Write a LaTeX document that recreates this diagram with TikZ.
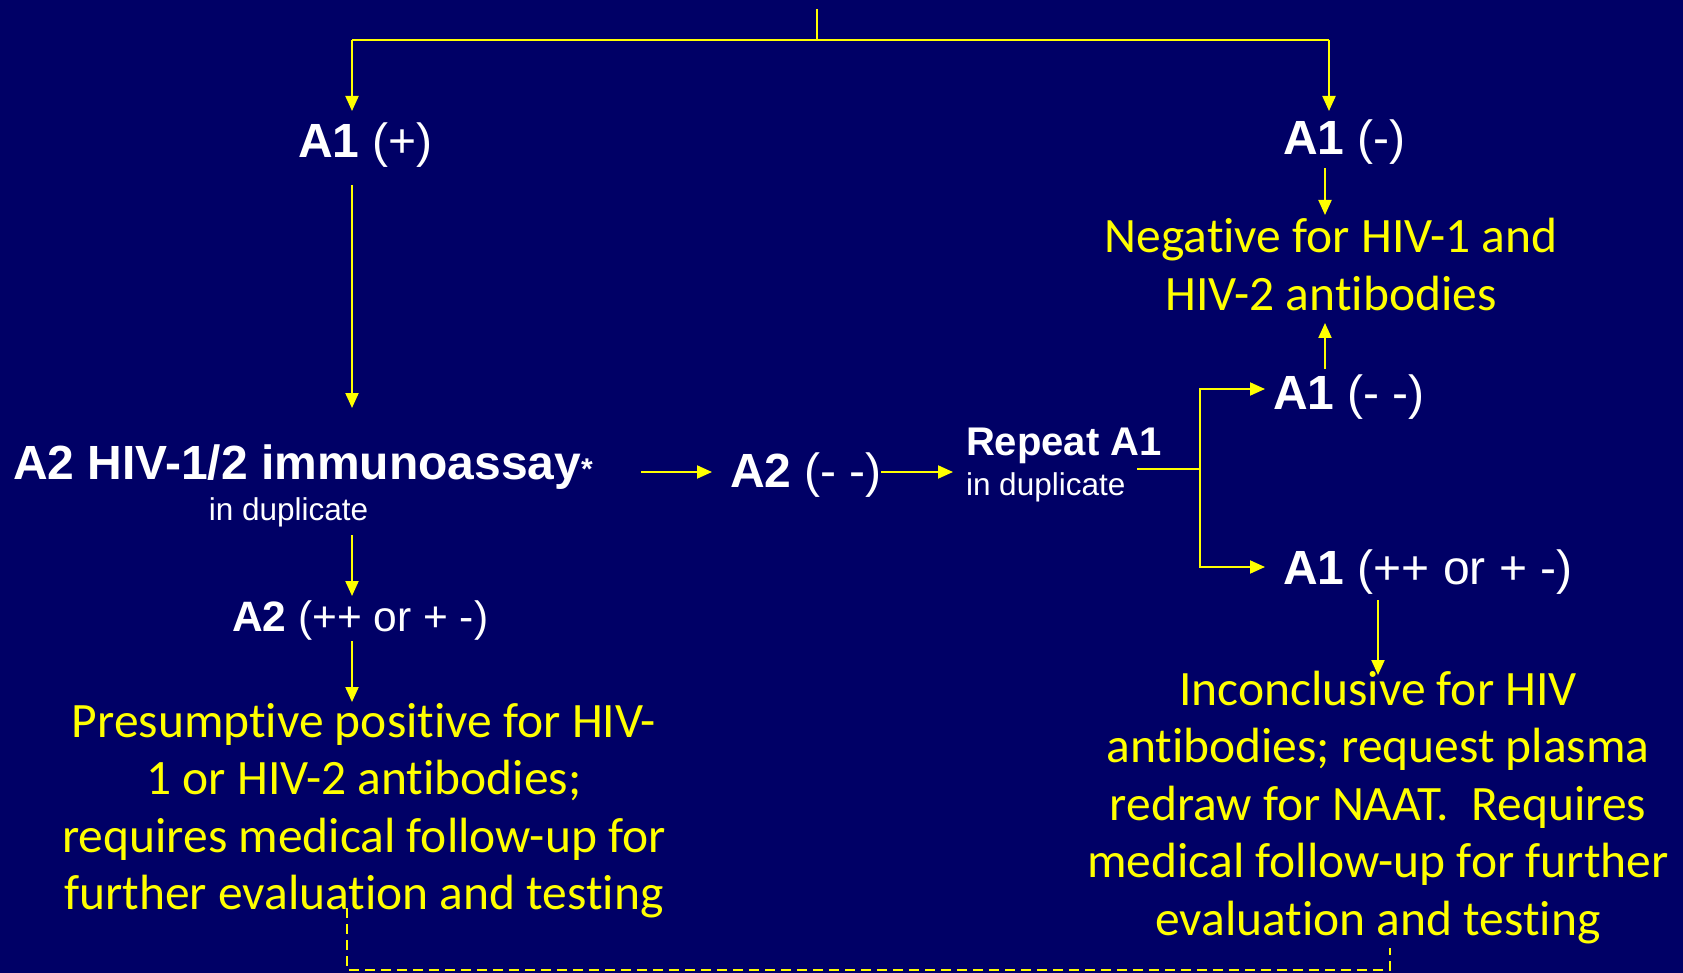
\documentclass[tikz,border=0pt]{standalone}
\usepackage{fontspec}
\setmainfont{Liberation Sans}
\newfontfamily\yfont[Ligatures={NoCommon,NoRare}]{Carlito}
\usetikzlibrary{arrows.meta,calc}
\definecolor{bg}{RGB}{0,0,102}
\definecolor{yl}{RGB}{255,255,0}
\begin{document}
\begin{tikzpicture}[x=1pt,y=-1pt,
  every node/.style={inner sep=0pt,outer sep=0pt},
  wl/.style={text=white,font=\fontsize{48}{56}\selectfont,anchor=base west},
  wsm/.style={text=white,font=\fontsize{31.5}{36}\selectfont},
  yt/.style={text=yl,font=\yfont\fontsize{49.5}{57.5}\selectfont,anchor=base},
  ln/.style={draw=yl,line width=2pt},
  arr/.style={ln,-{Triangle[length=15pt,width=13pt]}},
  dsh/.style={draw=yl,line width=2pt,dash pattern=on 10pt off 6pt}]
\fill[bg] (0,0) rectangle (1683,973);
\useasboundingbox (0,0) rectangle (1683,973);
% white labels
\node[wl] (a1p) at (298,158) {\textbf{A1} (+)};
\node[wl] (a1m) at (1283,155) {\textbf{A1} (-)};
\node[text=white,anchor=base west,font=\fontsize{48}{56}\selectfont\bfseries] (imm) at (13,479)
  {A2 HIV-1/2 immunoassay{\fontsize{30}{30}\selectfont*}};
\node[wsm,anchor=base] (dup1) at (288.5,520) {in duplicate};
\node[wl] (a2mm) at (730,487) {\textbf{A2} (- -)};
\node[text=white,anchor=base west,font=\fontsize{40}{48}\selectfont\bfseries] (rep) at (966,455) {Repeat A1};
\node[wsm,anchor=base west] (dup2) at (966,495) {in duplicate};
\node[wl] (a1mm) at (1273,409) {\textbf{A1} (- -)};
\node[wl] (a1pp) at (1283,584) {\textbf{A1} (++ or + -)};
\node[wl,font=\fontsize{42.5}{50}\selectfont] (a2pp) at (232,631) {\textbf{A2} (++ or + -)};
% yellow texts
\node[yt] (neg) at (1331,253) {\begin{tabular}[t]{@{}c@{}}Negative for HIV-1 and\\HIV-2 antibodies\end{tabular}};
\node[yt] (pres) at (364,737) {\begin{tabular}[t]{@{}c@{}}Presumptive positive for HIV-\\1 or HIV-2 antibodies;\\requires medical follow-up for\\further evaluation and testing\end{tabular}};
\node[yt] (inc) at (1378,705) {\begin{tabular}[t]{@{}c@{}}Inconclusive for HIV\\antibodies; request plasma\\redraw for NAAT.\ \ Requires\\medical follow-up for further\\evaluation and testing\end{tabular}};
% helper coordinates
\coordinate (top) at (817,9);
\coordinate (jM) at (817,40);
\coordinate (cL) at (352,40);
\coordinate (cR) at (1329,40);
\coordinate (cN) at (1325,0);
\coordinate (split) at (1200,469);
\coordinate (bl) at (347,970);
\coordinate (br) at (1390,970);
% connectors
\draw[ln,line width=1.5pt] (top) -- (jM);
\draw[ln] (cL) -- (cR);
\draw[arr] (cL) -- ($(a1p.base -| cL)+(0,-47)$);
\draw[arr] (cR) -- ($(a1m.base -| cR)+(0,-44)$);
\draw[arr] ($(a1p.base -| cL)+(0,27)$) -- ($(imm.base -| cL)+(0,-71)$);
\draw[arr] ($(a1m.base -| cN)+(0,13)$) -- ($(neg.base -| cN)+(0,-38)$);
\draw[arr] ($(a1mm.base -| cN)+(0,-40)$) -- ($(neg.base -| cN)+(0,70)$);
\draw[arr] ($(imm.base west)+(628,-7)$) -- ($(a2mm.base west)+(-18,-15)$);
\draw[arr] ($(a2mm.base west)+(151,-15)$) -- ($(rep.base west)+(-13,17)$);
\draw[ln] ($(dup2.base west)+(171,-26)$) -- (split);
\draw[arr] (split) |- ($(a1mm.base west)+(-8,-20)$);
\draw[arr] (split) |- ($(a1pp.base west)+(-18,-17)$);
\draw[arr] ($(a1pp.base west -| inc.base)+(0,16)$) -- ($(inc.base)+(0,-30)$);
\draw[arr] ($(imm.base -| cL)+(0,56)$) -- ($(a2pp.base -| cL)+(0,-35)$);
\draw[arr] ($(a2pp.base -| cL)+(0,10)$) -- ($(pres.base -| cL)+(0,-35)$);
\draw[dsh] ($(pres.base -| bl)+(0,171)$) -- (bl) -- (br) -- ($(inc.base -| br)+(0,243)$);
\end{tikzpicture}
\end{document}
